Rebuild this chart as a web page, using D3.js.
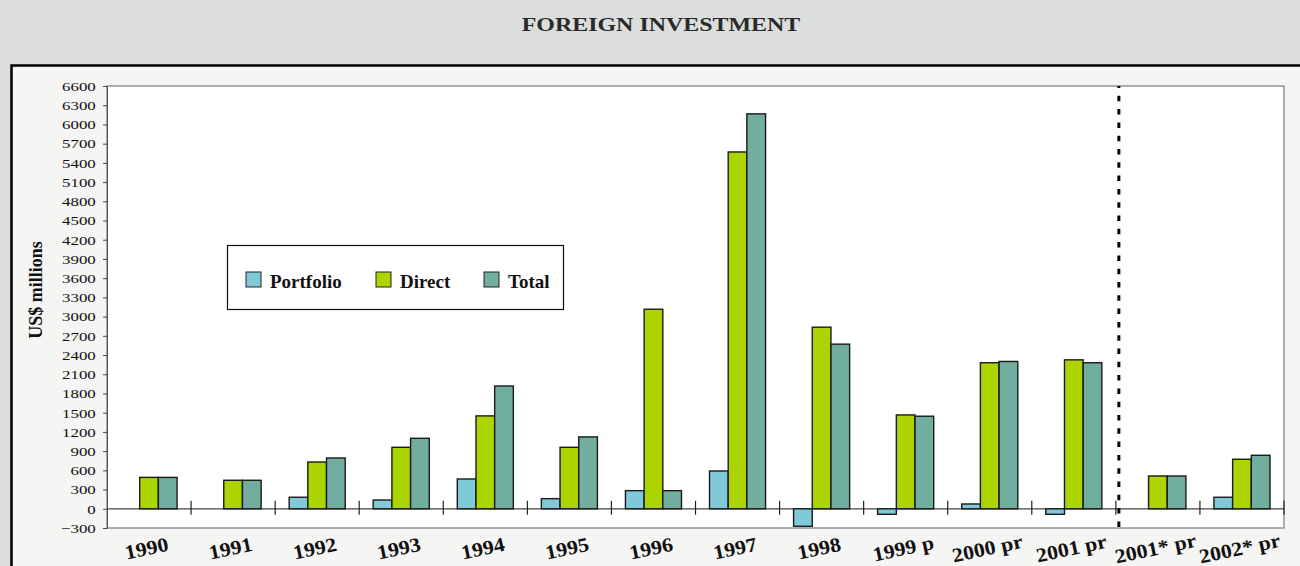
<!DOCTYPE html>
<html>
<head>
<meta charset="utf-8">
<script src="https://cdn.jsdelivr.net/npm/d3@7"></script>
<style>
  body { margin: 0; background: #dcdedd; }
  svg { display: block; }
  text { font-family: "Liberation Serif", "Times New Roman", serif; fill: #111; }
</style>
</head>
<body>
<script>
// categories and series
var categories = ['1990', '1991', '1992', '1993', '1994', '1995', '1996', '1997',
  '1998', '1999 p', '2000 pr', '2001 pr', '2001* pr', '2002* pr'];
var seriesNames = ['Portfolio', 'Direct', 'Total'];
var portfolio = [null, null, 180, 137, 465, 158, 283, 590, -273, -86, 75, -86, null, 180];
var direct = [490, 445, 730, 960, 1450, 960, 3115, 5570, 2835, 1465, 2280, 2325, 512, 773];
var total = [490, 445, 793, 1100, 1917, 1122, 283, 6165, 2570, 1445, 2300, 2280, 512, 835];
var yTicks = d3.range(-300, 6601, 300);

var colors = ['#80c9d6', '#acd400', '#72ae9f'];

function drawChart() {
  var width = 1300;
  var height = 566;
  var svg = d3.select('body')
    .append('svg')
    .attr('width', width)
    .attr('height', height);

  // title (the original text is a little stretched sideways)
  svg.append('text')
    .attr('transform', 'translate(661,31) scale(1.26,1)')
    .attr('text-anchor', 'middle')
    .style('font-size', '19px')
    .style('font-weight', 'bold')
    .style('fill', '#2a2a2a')
    .text('FOREIGN INVESTMENT');

  // outer frame
  svg.append('rect')
    .attr('x', 11.5)
    .attr('y', 65.5)
    .attr('width', 1320)
    .attr('height', 600)
    .attr('fill', '#f5f5f3')
    .attr('stroke', '#000')
    .attr('stroke-width', 2.5);

  var plot = { left: 107, right: 1284, top: 86, bottom: 528 };

  // X Scale (categories) and inner scale for the three series
  var x = d3.scaleBand()
    .domain(categories)
    .range([plot.left, plot.right])
    .padding(0);

  var xInner = d3.scaleBand()
    .domain(seriesNames)
    .range([0, x.bandwidth()])
    .paddingInner(0)
    .paddingOuter(0.75);

  // Y Scale
  var y = d3.scaleLinear()
    .domain([-300, 6600])
    .range([plot.bottom, plot.top]);

  // plot area
  svg.append('rect')
    .attr('x', plot.left)
    .attr('y', plot.top)
    .attr('width', plot.right - plot.left)
    .attr('height', plot.bottom - plot.top)
    .attr('fill', '#fff')
    .attr('stroke', '#7a7a7a')
    .attr('stroke-width', 1.2);

  // y axis
  var yAxis = svg.append('g')
    .attr('transform', 'translate(' + plot.left + ',0)')
    .call(d3.axisLeft(y).tickValues(yTicks).tickFormat(d3.format('d'))
      .tickSize(4).tickPadding(5));
  yAxis.select('.domain').attr('stroke', '#555');
  yAxis.selectAll('.tick line').attr('stroke', '#444');
  yAxis.selectAll('.tick text')
    .attr('transform', 'scale(1.25,1)')
    .style('font-family', '"Liberation Serif", serif')
    .style('font-size', '13.5px')
    .attr('fill', '#161616');

  // y axis title
  svg.append('text')
    .attr('transform', 'translate(42,' + ((plot.top + plot.bottom) / 2 - 17) + ') rotate(-90)')
    .attr('text-anchor', 'middle')
    .style('font-size', '18px')
    .style('font-weight', 'bold')
    .text('US$ millions');

  // zero line with category separators
  var y0 = y(0);
  svg.append('line')
    .attr('x1', plot.left)
    .attr('x2', plot.right)
    .attr('y1', y0)
    .attr('y2', y0)
    .attr('stroke', '#444')
    .attr('stroke-width', 1.2);

  var bounds = categories.slice(1).map(function (c) { return x(c); });
  bounds.push(plot.right);
  svg.append('g')
    .selectAll('line')
    .data(bounds)
    .enter()
    .append('line')
    .attr('x1', function (d) { return d; })
    .attr('x2', function (d) { return d; })
    .attr('y1', y0 - 8)
    .attr('y2', y0 + 6)
    .attr('stroke', '#222')
    .attr('stroke-width', 1.2);

  // bars
  var datas = [portfolio, direct, total];
  var groups = svg.append('g')
    .selectAll('g')
    .data(datas)
    .enter()
    .append('g')
    .attr('fill', function (d, i) { return colors[i]; });

  groups.selectAll('rect')
    .data(function (d, i) {
      return d.map(function (v, j) { return { v: v, c: categories[j], s: seriesNames[i] }; })
        .filter(function (e) { return e.v !== null; });
    })
    .enter()
    .append('rect')
    .attr('x', function (d) { return x(d.c) + xInner(d.s); })
    .attr('width', xInner.bandwidth())
    .attr('y', function (d) { return Math.min(y(d.v), y0); })
    .attr('height', function (d) { return Math.abs(y(d.v) - y0); })
    .attr('stroke', '#1a1a1a')
    .attr('stroke-width', 1.4);

  // dashed separator between actual and projected figures
  var sepX = x(categories[12]) + 3;
  svg.append('line')
    .attr('x1', sepX)
    .attr('x2', sepX)
    .attr('y1', plot.top)
    .attr('y2', plot.bottom)
    .attr('stroke', '#000')
    .attr('stroke-width', 3)
    .attr('stroke-dasharray', '5.5,7.8')
    .attr('stroke-dashoffset', 3.5);

  // category labels, tilted like the original
  svg.append('g')
    .selectAll('text')
    .data(categories)
    .enter()
    .append('text')
    .attr('transform', function (d) {
      return 'translate(' + (x(d) + x.bandwidth() / 2 - 1) + ',555) rotate(-12) scale(1.1,1)';
    })
    .attr('text-anchor', 'middle')
    .style('font-size', '20px')
    .style('font-weight', 'bold')
    .text(function (d) { return d; });

  // legend
  var legend = svg.append('g');
  legend.append('rect')
    .attr('x', 227.5)
    .attr('y', 245.5)
    .attr('width', 336)
    .attr('height', 64)
    .attr('fill', '#fff')
    .attr('stroke', '#111')
    .attr('stroke-width', 1.2);

  var legX = [246, 376, 484];
  var items = legend.selectAll('g.item')
    .data(seriesNames)
    .enter()
    .append('g')
    .attr('class', 'item')
    .attr('transform', function (d, i) { return 'translate(' + legX[i] + ',272)'; });

  items.append('rect')
    .attr('width', 15)
    .attr('height', 15)
    .attr('fill', function (d, i) { return colors[i]; })
    .attr('stroke', '#222')
    .attr('stroke-width', 1);

  items.append('text')
    .attr('x', 24)
    .attr('y', 15.5)
    .style('font-size', '19px')
    .style('font-weight', 'bold')
    .text(function (d) { return d; });
}

drawChart();
</script>
</body>
</html>
